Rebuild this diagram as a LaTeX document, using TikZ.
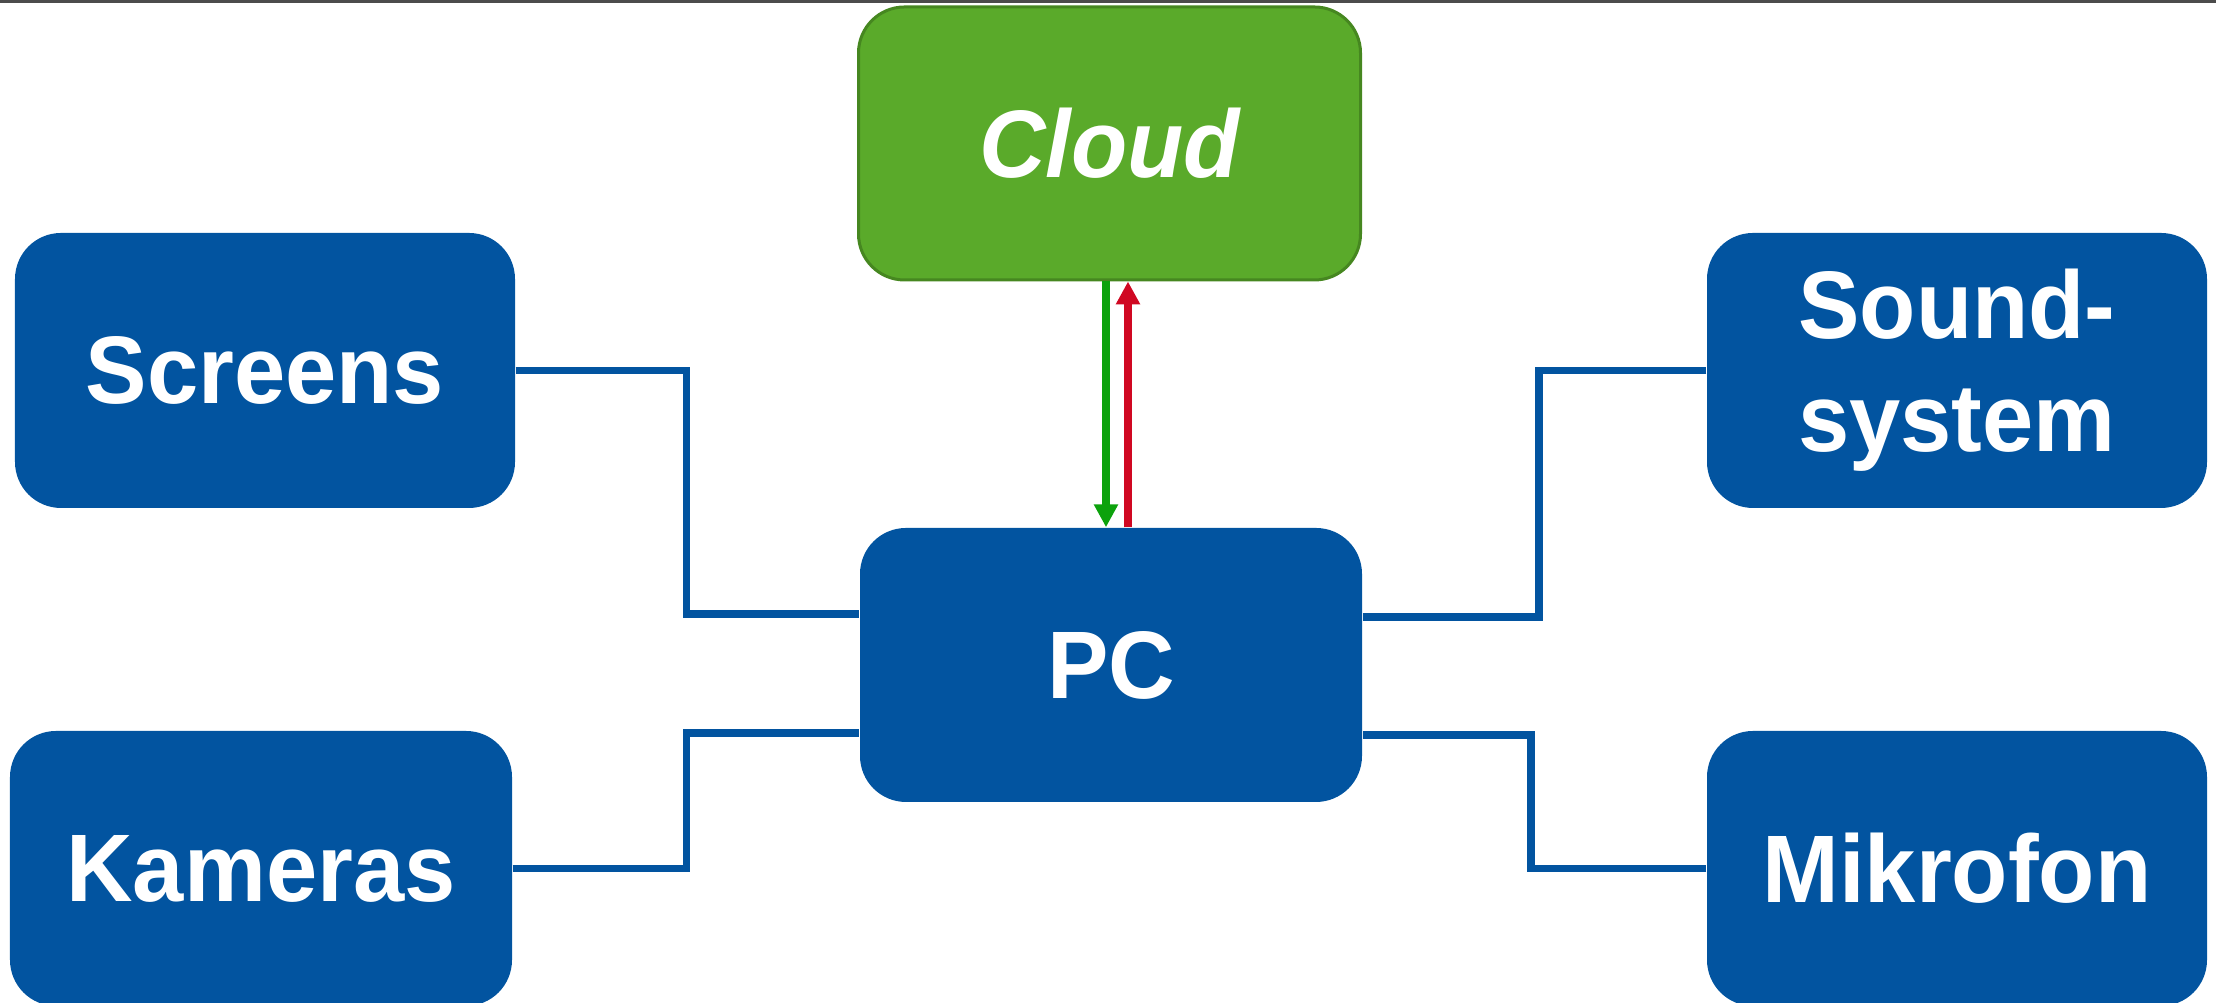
\documentclass[tikz,border=0pt]{standalone}
\usepackage{fontspec}
\setmainfont{Liberation Sans}[FakeStretch=0.96]
\usetikzlibrary{arrows.meta}
\definecolor{boxblue}{RGB}{2,84,160}
\definecolor{cloudgreen}{RGB}{90,170,42}
\definecolor{cloudedge}{RGB}{70,135,32}
\definecolor{arrowgreen}{RGB}{12,162,12}
\definecolor{arrowred}{RGB}{208,8,34}
\begin{document}
\begin{tikzpicture}[
  box/.style={fill=boxblue, text=white, rounded corners=0.46cm, inner sep=0pt,
    minimum width=5.02cm, minimum height=2.75cm, align=center,
    font=\fontsize{27.3}{32.2}\selectfont\bfseries},
  link/.style={draw=boxblue, line width=0.075cm},
  flow/.style={line width=0.075cm, -{Triangle[width=0.23cm,length=0.23cm]}}
]
\useasboundingbox (0,0) rectangle (22.16,10.03);
\draw[black!70, line width=0.03cm] (0,10.01) -- (22.16,10.01);
\node[box, draw=cloudedge, line width=0.03cm, fill=cloudgreen, minimum height=2.73cm,
  font=\fontsize{27.3}{32.2}\selectfont\bfseries\itshape] (cloud) at (11.095,8.595) {Cloud};
\node[box, minimum width=5cm] (screens) at (2.65,6.325) {Screens};
\node[box] (kameras) at (2.61,1.345) {Kameras};
\node[box, minimum height=2.74cm] (pc) at (11.11,3.38) {PC};
\node[box, minimum width=5cm] (sound) at (19.57,6.325) {Sound-\\system};
\node[box, minimum width=5cm] (mikro) at (19.57,1.345) {Mikrofon};
\draw[link] (screens.east) -- (6.865,6.325) |- ([yshift=0.51cm]pc.west);
\draw[link] (kameras.east) -- (6.865,1.345) |- ([yshift=-0.68cm]pc.west);
\draw[link] (sound.west) -- (15.39,6.325) |- ([yshift=0.48cm]pc.east);
\draw[link] (mikro.west) -- (15.31,1.345) |- ([yshift=-0.70cm]pc.east);
\draw[flow, arrowgreen] ([xshift=-0.035cm]cloud.south) -- ([xshift=-0.05cm]pc.north);
\draw[flow, arrowred] ([xshift=0.17cm]pc.north) -- ([xshift=0.185cm]cloud.south);
\end{tikzpicture}
\end{document}
